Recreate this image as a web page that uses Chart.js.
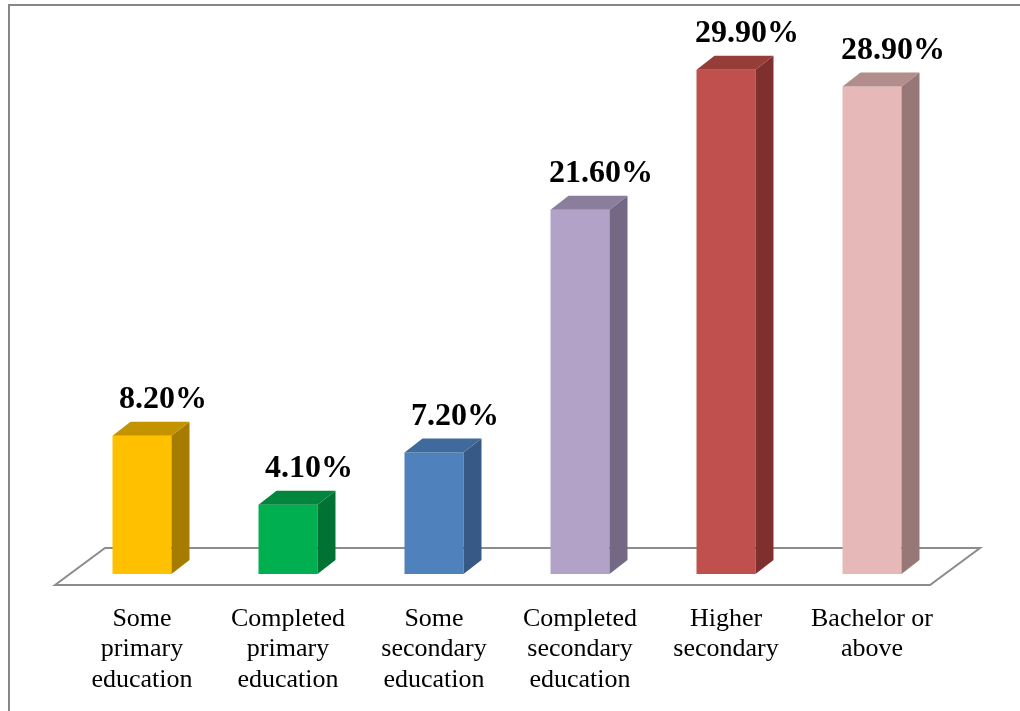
<!DOCTYPE html>
<html>
<head>
<meta charset="utf-8">
<script src="https://cdn.jsdelivr.net/npm/chart.js@4"></script>
<style>
  html, body { margin: 0; padding: 0; background: #fff; }
  #wrap { width: 1020px; height: 711px; }
</style>
</head>
<body>
<div id="wrap"><canvas id="edu-chart" width="1020" height="711"></canvas></div>
<script>
// education levels and share of respondents (%)
const categories = [
    ['Some', 'primary', 'education'],
    ['Completed', 'primary', 'education'],
    ['Some', 'secondary', 'education'],
    ['Completed', 'secondary', 'education'],
    ['Higher', 'secondary'],
    ['Bachelor or', 'above']
];
const shares = [8.2, 4.1, 7.2, 21.6, 29.9, 28.9];

// front / side / top face colours per bar
const frontColors = ['#FFC000', '#00B050', '#4F81BD', '#B3A2C7', '#C0504D', '#E6B9B8'];
const sideColors  = ['#A67C00', '#007233', '#375A84', '#746984', '#7F302E', '#977877'];
const topColors   = ['#C49400', '#00873D', '#3F6A9B', '#8B7E9D', '#963C39', '#B28D8C'];

const DX = 18, DY = 14;

const serif = '"Liberation Serif", "Times New Roman", serif';

// gray frame line along the top and left edges
const framePlugin = {
    id: 'frame',
    beforeDraw(chart) {
        const ctx = chart.ctx;
        ctx.save();
        ctx.strokeStyle = '#868686';
        ctx.lineWidth = 2;
        ctx.beginPath();
        ctx.moveTo(9, chart.height);
        ctx.lineTo(9, 5);
        ctx.lineTo(chart.width, 5);
        ctx.stroke();
        ctx.restore();
    }
};

// floor plane under the bars
const floorPlugin = {
    id: 'floor',
    beforeDatasetsDraw(chart) {
        const { ctx, chartArea, scales } = chart;
        const base = scales.y.getPixelForValue(0);
        const frontY = base + 11, backY = base - 26;
        const x0 = chartArea.left - 14, x1 = chartArea.right - 15;
        ctx.save();
        ctx.strokeStyle = '#8c8c8c';
        ctx.lineWidth = 2;
        ctx.fillStyle = '#fff';
        ctx.beginPath();
        ctx.moveTo(x0, frontY);
        ctx.lineTo(x0 + 50, backY);
        ctx.lineTo(x1 + 50, backY);
        ctx.lineTo(x1, frontY);
        ctx.closePath();
        ctx.fill();
        ctx.stroke();
        ctx.restore();
    }
};

// side and top faces of each bar, plus the value label
const boxPlugin = {
    id: 'box3d',
    afterDatasetsDraw(chart) {
        const ctx = chart.ctx;
        const meta = chart.getDatasetMeta(0);
        ctx.save();
        meta.data.forEach((bar, i) => {
            const { x, y, base, width } = bar.getProps(['x', 'y', 'base', 'width'], true);
            const l = x - width / 2, r = x + width / 2;

            ctx.fillStyle = sideColors[i];
            ctx.beginPath();
            ctx.moveTo(r, y);
            ctx.lineTo(r + DX, y - DY);
            ctx.lineTo(r + DX, base - DY);
            ctx.lineTo(r, base);
            ctx.closePath();
            ctx.fill();

            ctx.fillStyle = topColors[i];
            ctx.beginPath();
            ctx.moveTo(l, y);
            ctx.lineTo(l + DX, y - DY);
            ctx.lineTo(r + DX, y - DY);
            ctx.lineTo(r, y);
            ctx.closePath();
            ctx.fill();

            ctx.fillStyle = '#000';
            ctx.font = 'bold 32px ' + serif;
            ctx.textAlign = 'center';
            ctx.textBaseline = 'alphabetic';
            ctx.fillText(shares[i].toFixed(2) + '%', x + 21, y - 28);
        });
        ctx.restore();
    }
};

new Chart(document.getElementById('edu-chart'), {
    type: 'bar',
    data: {
        labels: categories,
        datasets: [{
            data: shares,
            backgroundColor: frontColors,
            borderWidth: 0,
            categoryPercentage: 1,
            barPercentage: 0.404
        }]
    },
    options: {
        responsive: false,
        animation: false,
        layout: {
            padding: { left: 69, right: 75, top: 68, bottom: 14 }
        },
        plugins: {
            legend: { display: false },
            tooltip: { enabled: false }
        },
        scales: {
            y: {
                display: false,
                min: 0,
                max: 30
            },
            x: {
                grid: { display: false, drawTicks: false },
                border: { display: false },
                afterFit(scale) { scale.height = 123; },
                ticks: {
                    color: '#000',
                    padding: 30,
                    maxRotation: 0,
                    autoSkip: false,
                    font: { family: serif, size: 26, lineHeight: 1.17 }
                }
            }
        }
    },
    plugins: [framePlugin, floorPlugin, boxPlugin]
});
</script>
</body>
</html>
